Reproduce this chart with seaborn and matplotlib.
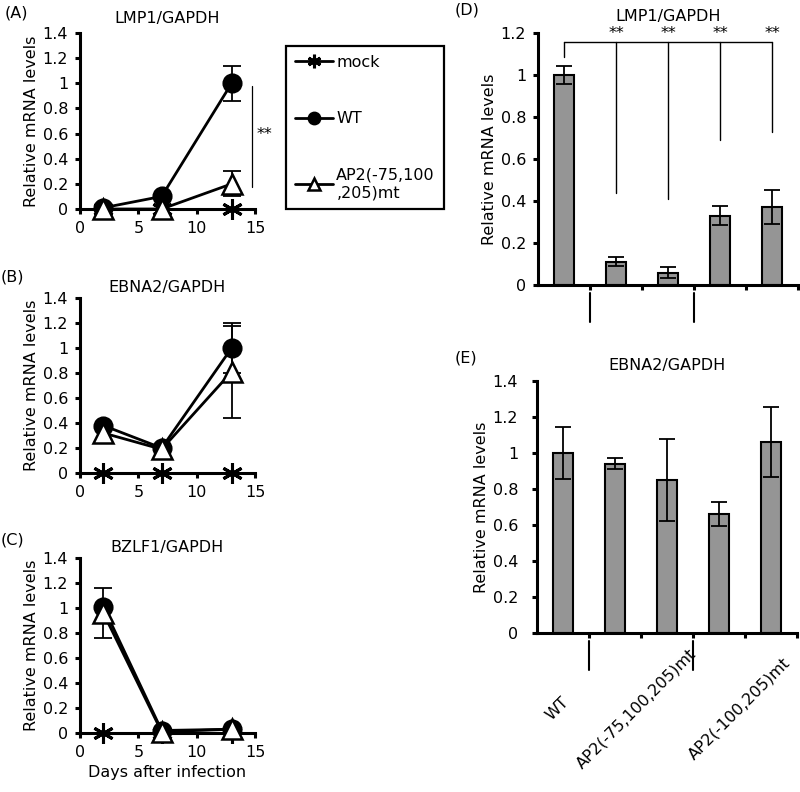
import numpy as np
import pandas as pd
import matplotlib
matplotlib.use("Agg")
import matplotlib.pyplot as plt
import matplotlib.transforms as mtransforms
from matplotlib.ticker import FuncFormatter
import seaborn as sns

# ---------------- data ----------------
days = [2, 7, 13]
series_names = ["mock", "WT", "AP2(-75,100,205)mt"]
legend_labels = ["mock", "WT", "AP2(-75,100\n,205)mt"]

lmp1_mock = [0.0, 0.0, 0.0]
lmp1_wt = [0.01, 0.10, 1.00]
lmp1_ap2 = [0.0, 0.0, 0.20]
lmp1_wt_err = [0.0, 0.0, 0.14]
lmp1_ap2_err = [0.0, 0.0, 0.10]

ebna2_mock = [0.0, 0.0, 0.0]
ebna2_wt = [0.38, 0.20, 1.00]
ebna2_ap2 = [0.32, 0.19, 0.81]
ebna2_wt_err = [0.0, 0.0, 0.20]
ebna2_ap2_err = [0.0, 0.0, 0.37]

bzlf1_mock = [0.0, 0.0, 0.0]
bzlf1_wt = [1.01, 0.02, 0.03]
bzlf1_ap2 = [0.96, 0.01, 0.03]
bzlf1_wt_err = [0.0, 0.0, 0.0]
bzlf1_ap2_err = [0.20, 0.0, 0.0]

bar_groups = ["WT", "AP2(-75,100,205)mt", "AP2(-100,205)mt"]
bar_group_index = [0, 1, 1, 2, 2]
bar_ids = ["b1", "b2", "b3", "b4", "b5"]

d_vals = [1.00, 0.111, 0.059, 0.330, 0.371]
d_err = [0.044, 0.020, 0.025, 0.046, 0.082]
d_sig_bottom = [0.44, 0.41, 0.69, 0.73]   # lower ends of the drop lines for bars 2-5
d_bracket_top = 1.156
d_bracket_left_bottom = 1.087
d_star_y = 1.20

e_vals = [1.00, 0.94, 0.85, 0.661, 1.062]
e_err = [0.146, 0.030, 0.226, 0.065, 0.193]

a_sig_x = 14.77
a_sig_range = [0.177, 0.98]
a_star_pos = [15.8, 0.59]

# ---------------- style ----------------
sns.set_theme(style="ticks")
plt.rcParams.update({
    "font.family": ["DejaVu Sans"],
    "font.size": 11.5,
    "text.color": "black",
    "axes.labelcolor": "black",
    "axes.edgecolor": "black",
    "xtick.color": "black",
    "ytick.color": "black",
    "axes.linewidth": 2.2,
    "xtick.major.width": 2.2,
    "ytick.major.width": 2.2,
    "xtick.major.size": 3.5,
    "ytick.major.size": 3.5,
    "xtick.labelsize": 11.5,
    "ytick.labelsize": 11.5,
    "axes.labelsize": 11.5,
    "axes.titlesize": 11.5,
})

fig = plt.figure(figsize=(8.0, 7.92), dpi=100)
W, H = 800.0, 792.0


def px_axes(left, top, right, bottom):
    return fig.add_axes([left / W, 1 - bottom / H, (right - left) / W, (bottom - top) / H])


fmt_g = FuncFormatter(lambda v, p: "%g" % round(v, 3))


def line_panel(ax, title, mock, wt, ap2, wt_err, ap2_err, title_pad):
    handles = []
    specs = [
        (mock, dict(marker=(6, 2, 0), markersize=15, markeredgewidth=2.2,
                    markerfacecolor="black", markeredgecolor="black"), 3),
        (wt, dict(marker="o", markersize=13, markerfacecolor="black",
                  markeredgecolor="black", markeredgewidth=1.5), 4),
        (ap2, dict(marker="^", markersize=14, markerfacecolor="white",
                   markeredgecolor="black", markeredgewidth=1.8), 5),
    ]
    for vals, mk, z in specs:
        sns.lineplot(x=days, y=vals, ax=ax, color="black", linewidth=2.0,
                     errorbar=None, sort=False, zorder=z, clip_on=False, **mk)
        handles.append(ax.lines[-1])
    for vals, errs, z in [(wt, wt_err, 3.5), (ap2, ap2_err, 4.5)]:
        idx = [i for i, e in enumerate(errs) if e > 0]
        if idx:
            ax.errorbar([days[i] for i in idx], [vals[i] for i in idx],
                        yerr=[errs[i] for i in idx], fmt="none", ecolor="black",
                        elinewidth=1.3, capsize=6.5, capthick=1.3, zorder=z, clip_on=False)
    ax.set_xlim(0, 15)
    ax.set_ylim(0, 1.4)
    ax.set_xticks([0, 5, 10, 15])
    ax.set_yticks(np.arange(0, 1.41, 0.2))
    ax.yaxis.set_major_formatter(fmt_g)
    ax.set_ylabel("Relative mRNA levels", labelpad=3)
    ax.set_xlabel("")
    ax.set_title(title, pad=title_pad)
    ax.tick_params(axis="both", pad=5)
    sns.despine(ax=ax)
    return handles


axA = px_axes(80, 33, 255, 209)
axB = px_axes(80, 298, 255, 473)
axC = px_axes(80, 558, 255, 733)

handles = line_panel(axA, "LMP1/GAPDH", lmp1_mock, lmp1_wt, lmp1_ap2, lmp1_wt_err, lmp1_ap2_err, 7)
line_panel(axB, "EBNA2/GAPDH", ebna2_mock, ebna2_wt, ebna2_ap2, ebna2_wt_err, ebna2_ap2_err, 4)
line_panel(axC, "BZLF1/GAPDH", bzlf1_mock, bzlf1_wt, bzlf1_ap2, bzlf1_wt_err, bzlf1_ap2_err, 4)
axC.set_xlabel("Days after infection", labelpad=4)

# significance in A
axA.plot([a_sig_x, a_sig_x], a_sig_range, color="black", lw=0.9, clip_on=False)
axA.text(a_star_pos[0], a_star_pos[1], "**", ha="center", va="center", fontsize=11.5)

# legend
leg = fig.legend(handles, legend_labels, loc="upper left",
                 bbox_to_anchor=(286 / W, 1 - 46 / H), bbox_transform=fig.transFigure,
                 frameon=True, fancybox=False, edgecolor="black", framealpha=1,
                 borderpad=0.55, labelspacing=2.6, handlelength=2.4, handletextpad=0.2,
                 borderaxespad=0, markerscale=0.65, fontsize=11.5)
leg.get_frame().set_linewidth(1.6)


# ---------------- bar panels ----------------
def bar_panel(ax, title, vals, errs, ymax, title_pad, tick_pad):
    sns.barplot(x=bar_ids, y=vals, ax=ax, color="#959595", saturation=1,
                edgecolor="black", linewidth=1.5, width=0.38, errorbar=None)
    ax.errorbar(range(len(vals)), vals, yerr=errs, fmt="none", ecolor="black",
                elinewidth=1.3, capsize=5.5, capthick=1.3, zorder=5)
    ax.set_xlim(-0.5, len(vals) - 0.5)
    ax.set_ylim(0, ymax)
    ax.set_yticks(np.arange(0, ymax + 0.01, 0.2))
    ax.yaxis.set_major_formatter(fmt_g)
    ax.set_xticks(np.arange(0.5, len(vals), 1.0))
    ax.set_xticklabels([])
    ax.tick_params(axis="x", length=3.5)
    ax.tick_params(axis="y", pad=tick_pad)
    ax.set_ylabel("Relative mRNA levels", labelpad=3)
    ax.set_xlabel("")
    ax.set_title(title, pad=title_pad)
    sns.despine(ax=ax)
    # group separators below the axis
    trans = mtransforms.blended_transform_factory(ax.transData, ax.transAxes)
    for i in range(1, len(bar_group_index)):
        if bar_group_index[i] != bar_group_index[i - 1]:
            ax.plot([i - 0.5, i - 0.5], [-0.03, -0.145], transform=trans,
                    color="black", lw=1.5, clip_on=False)
    return trans


axD = px_axes(538, 33, 798, 285)
axE = px_axes(537, 381, 797, 633)

bar_panel(axD, "LMP1/GAPDH", d_vals, d_err, 1.2, 9, 5)
transE = bar_panel(axE, "EBNA2/GAPDH", e_vals, e_err, 1.4, 8, 10)

# significance bracket in D
n = len(d_vals)
axD.plot([0, n - 1], [d_bracket_top, d_bracket_top], color="black", lw=1.0, clip_on=False)
axD.plot([0, 0], [d_bracket_left_bottom, d_bracket_top], color="black", lw=1.0, clip_on=False)
for i, yb in enumerate(d_sig_bottom, start=1):
    axD.plot([i, i], [yb, d_bracket_top], color="black", lw=1.0, clip_on=False)
    axD.text(i, d_star_y, "**", ha="center", va="center", fontsize=11.5)

# group labels in E
for g, name in enumerate(bar_groups):
    members = [i for i, gi in enumerate(bar_group_index) if gi == g]
    xc = np.mean(members) - 0.1
    axE.text(xc, -0.3, name, transform=transE, rotation=45,
             ha="center", va="center", fontsize=11.5)

# panel letters
for lab, x, y in [("(A)", 5, 13), ("(B)", 1, 277), ("(C)", 1, 540),
                  ("(D)", 455, 10), ("(E)", 455, 358)]:
    fig.text(x / W, 1 - y / H, lab, ha="left", va="center", fontsize=11.5)

fig.savefig("out.png", dpi=100)
